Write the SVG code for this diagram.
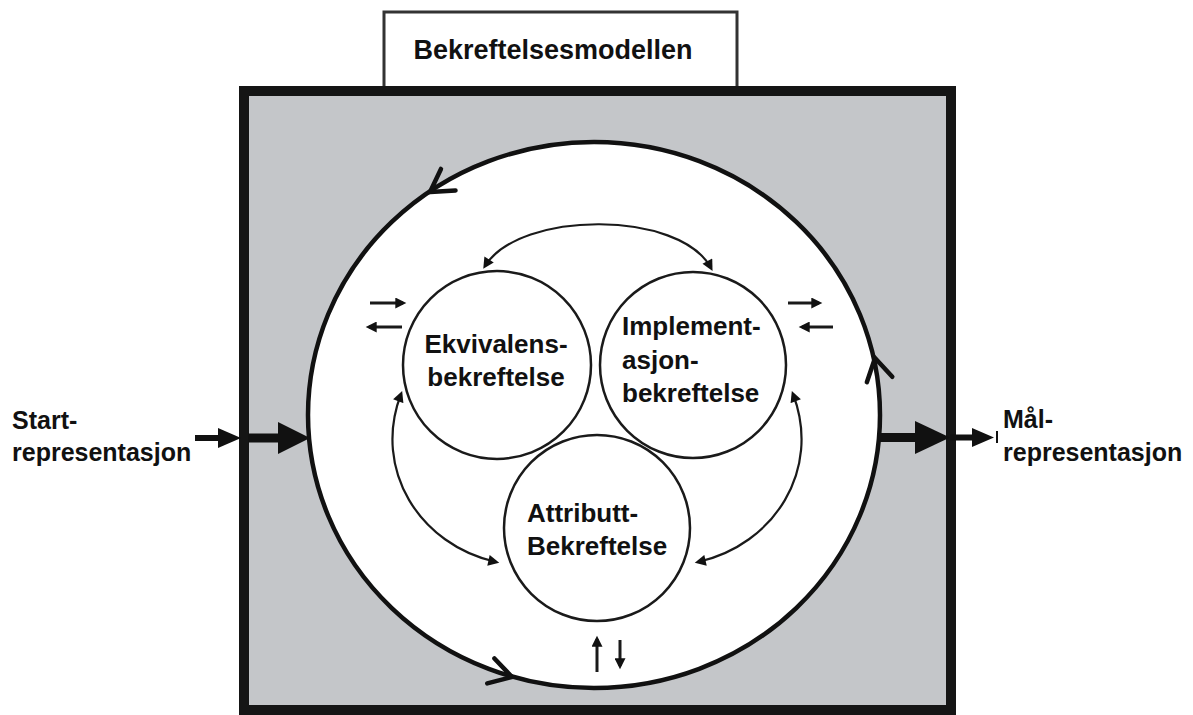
<svg xmlns="http://www.w3.org/2000/svg" width="1193" height="715" viewBox="0 0 1193 715">
<defs>
<style>
.t{font-family:"Liberation Sans",Arial,sans-serif;font-weight:bold;fill:#111;}
.t26{font-size:26px;}
.node{fill:none;stroke:#1a1a1a;stroke-width:2.5;}
.conn{fill:none;stroke:#1a1a1a;stroke-width:2.2;}
.sm{fill:none;stroke:#1a1a1a;stroke-width:3;}
.barb{fill:none;stroke:#111;stroke-width:4.5;stroke-linejoin:miter;stroke-linecap:round;}
.solid{fill:#111;}
</style>
<marker id="ah" viewBox="0 0 10 10" refX="7" refY="5" markerUnits="userSpaceOnUse" markerWidth="12" markerHeight="11" orient="auto-start-reverse"><path d="M0,0 L10,5 L0,10 z" fill="#111"/></marker>
<marker id="sh" viewBox="0 0 10 10" refX="7" refY="5" markerUnits="userSpaceOnUse" markerWidth="13" markerHeight="11" orient="auto"><path d="M0,0 L10,5 L0,10 z" fill="#111"/></marker>
</defs>
<rect x="0" y="0" width="1193" height="715" fill="#ffffff"/>

<g id="title">
<rect x="384" y="12" width="353" height="76" fill="#ffffff" stroke="#333" stroke-width="3"/>
<text class="t" x="553" y="59" font-size="27" text-anchor="middle">Bekreftelsesmodellen</text>
</g>

<g id="frame">
<rect x="244" y="91" width="707" height="619" fill="#c4c6c9" stroke="#151515" stroke-width="10"/>
</g>

<g id="cycle">
<ellipse cx="594" cy="415" rx="286" ry="273" fill="#ffffff" stroke="#111" stroke-width="4.5"/>
<path class="barb" d="M-22,-13 L0,0 L-22,13" transform="translate(430,192) rotate(146)"/>
<path class="barb" d="M-22,-13 L0,0 L-22,13" transform="translate(875,358) rotate(-102)"/>
<path class="barb" d="M-22,-13 L0,0 L-22,13" transform="translate(512,677) rotate(16)"/>
</g>

<g id="node-ekvivalens">
<circle class="node" cx="497" cy="365" r="94"/>
<text class="t t26" x="496" y="353" text-anchor="middle">Ekvivalens-</text>
<text class="t t26" x="496" y="386" text-anchor="middle">bekreftelse</text>
</g>

<g id="node-implementasjon">
<circle class="node" cx="693" cy="365" r="93"/>
<text class="t t26" x="622" y="335">Implement-</text>
<text class="t t26" x="622" y="369">asjon-</text>
<text class="t t26" x="622" y="402">bekreftelse</text>
</g>

<g id="node-attributt">
<circle class="node" cx="597" cy="528" r="93"/>
<text class="t t26" x="527" y="522">Attributt-</text>
<text class="t t26" x="527" y="555">Bekreftelse</text>
</g>

<g id="label-start">
<text class="t" x="12" y="429" font-size="25">Start-</text>
<text class="t" x="12" y="461" font-size="25">representasjon</text>
</g>

<g id="label-maal">
<text class="t" x="1003" y="428" font-size="25">Mål-</text>
<text class="t" x="1003" y="461" font-size="25">representasjon</text>
</g>

<g id="connectors">
<path class="conn" d="M485,266 C520,210 680,210 711,268" marker-start="url(#ah)" marker-end="url(#ah)"/>
<path class="conn" d="M401,394 C372,470 420,545 496,562" marker-start="url(#ah)" marker-end="url(#ah)"/>
<path class="conn" d="M793,394 C822,470 774,545 698,562" marker-start="url(#ah)" marker-end="url(#ah)"/>

<line class="sm" x1="370" y1="303" x2="403" y2="303" marker-end="url(#sh)"/>
<line class="sm" x1="402" y1="327" x2="369" y2="327" marker-end="url(#sh)"/>
<line class="sm" x1="788" y1="303" x2="819" y2="303" marker-end="url(#sh)"/>
<line class="sm" x1="833" y1="327" x2="802" y2="327" marker-end="url(#sh)"/>
<line class="sm" x1="597" y1="672" x2="597" y2="639" marker-end="url(#sh)"/>
<line class="sm" x1="620" y1="640" x2="620" y2="666" marker-end="url(#sh)"/>

<rect class="solid" x="195" y="435" width="26" height="6"/>
<polygon class="solid" points="218,428 241,438 218,448"/>
<rect class="solid" x="248" y="433.5" width="32" height="9"/>
<polygon class="solid" points="278,422 310,438 278,454"/>

<rect class="solid" x="880" y="433" width="37" height="9"/>
<polygon class="solid" points="915,421 950,437.5 915,454"/>
<rect class="solid" x="950" y="434.5" width="25" height="6"/>
<polygon class="solid" points="972,428 994,437.5 972,447"/>
<line x1="997" y1="431" x2="997" y2="443" stroke="#111" stroke-width="2"/>
</g>
</svg>
